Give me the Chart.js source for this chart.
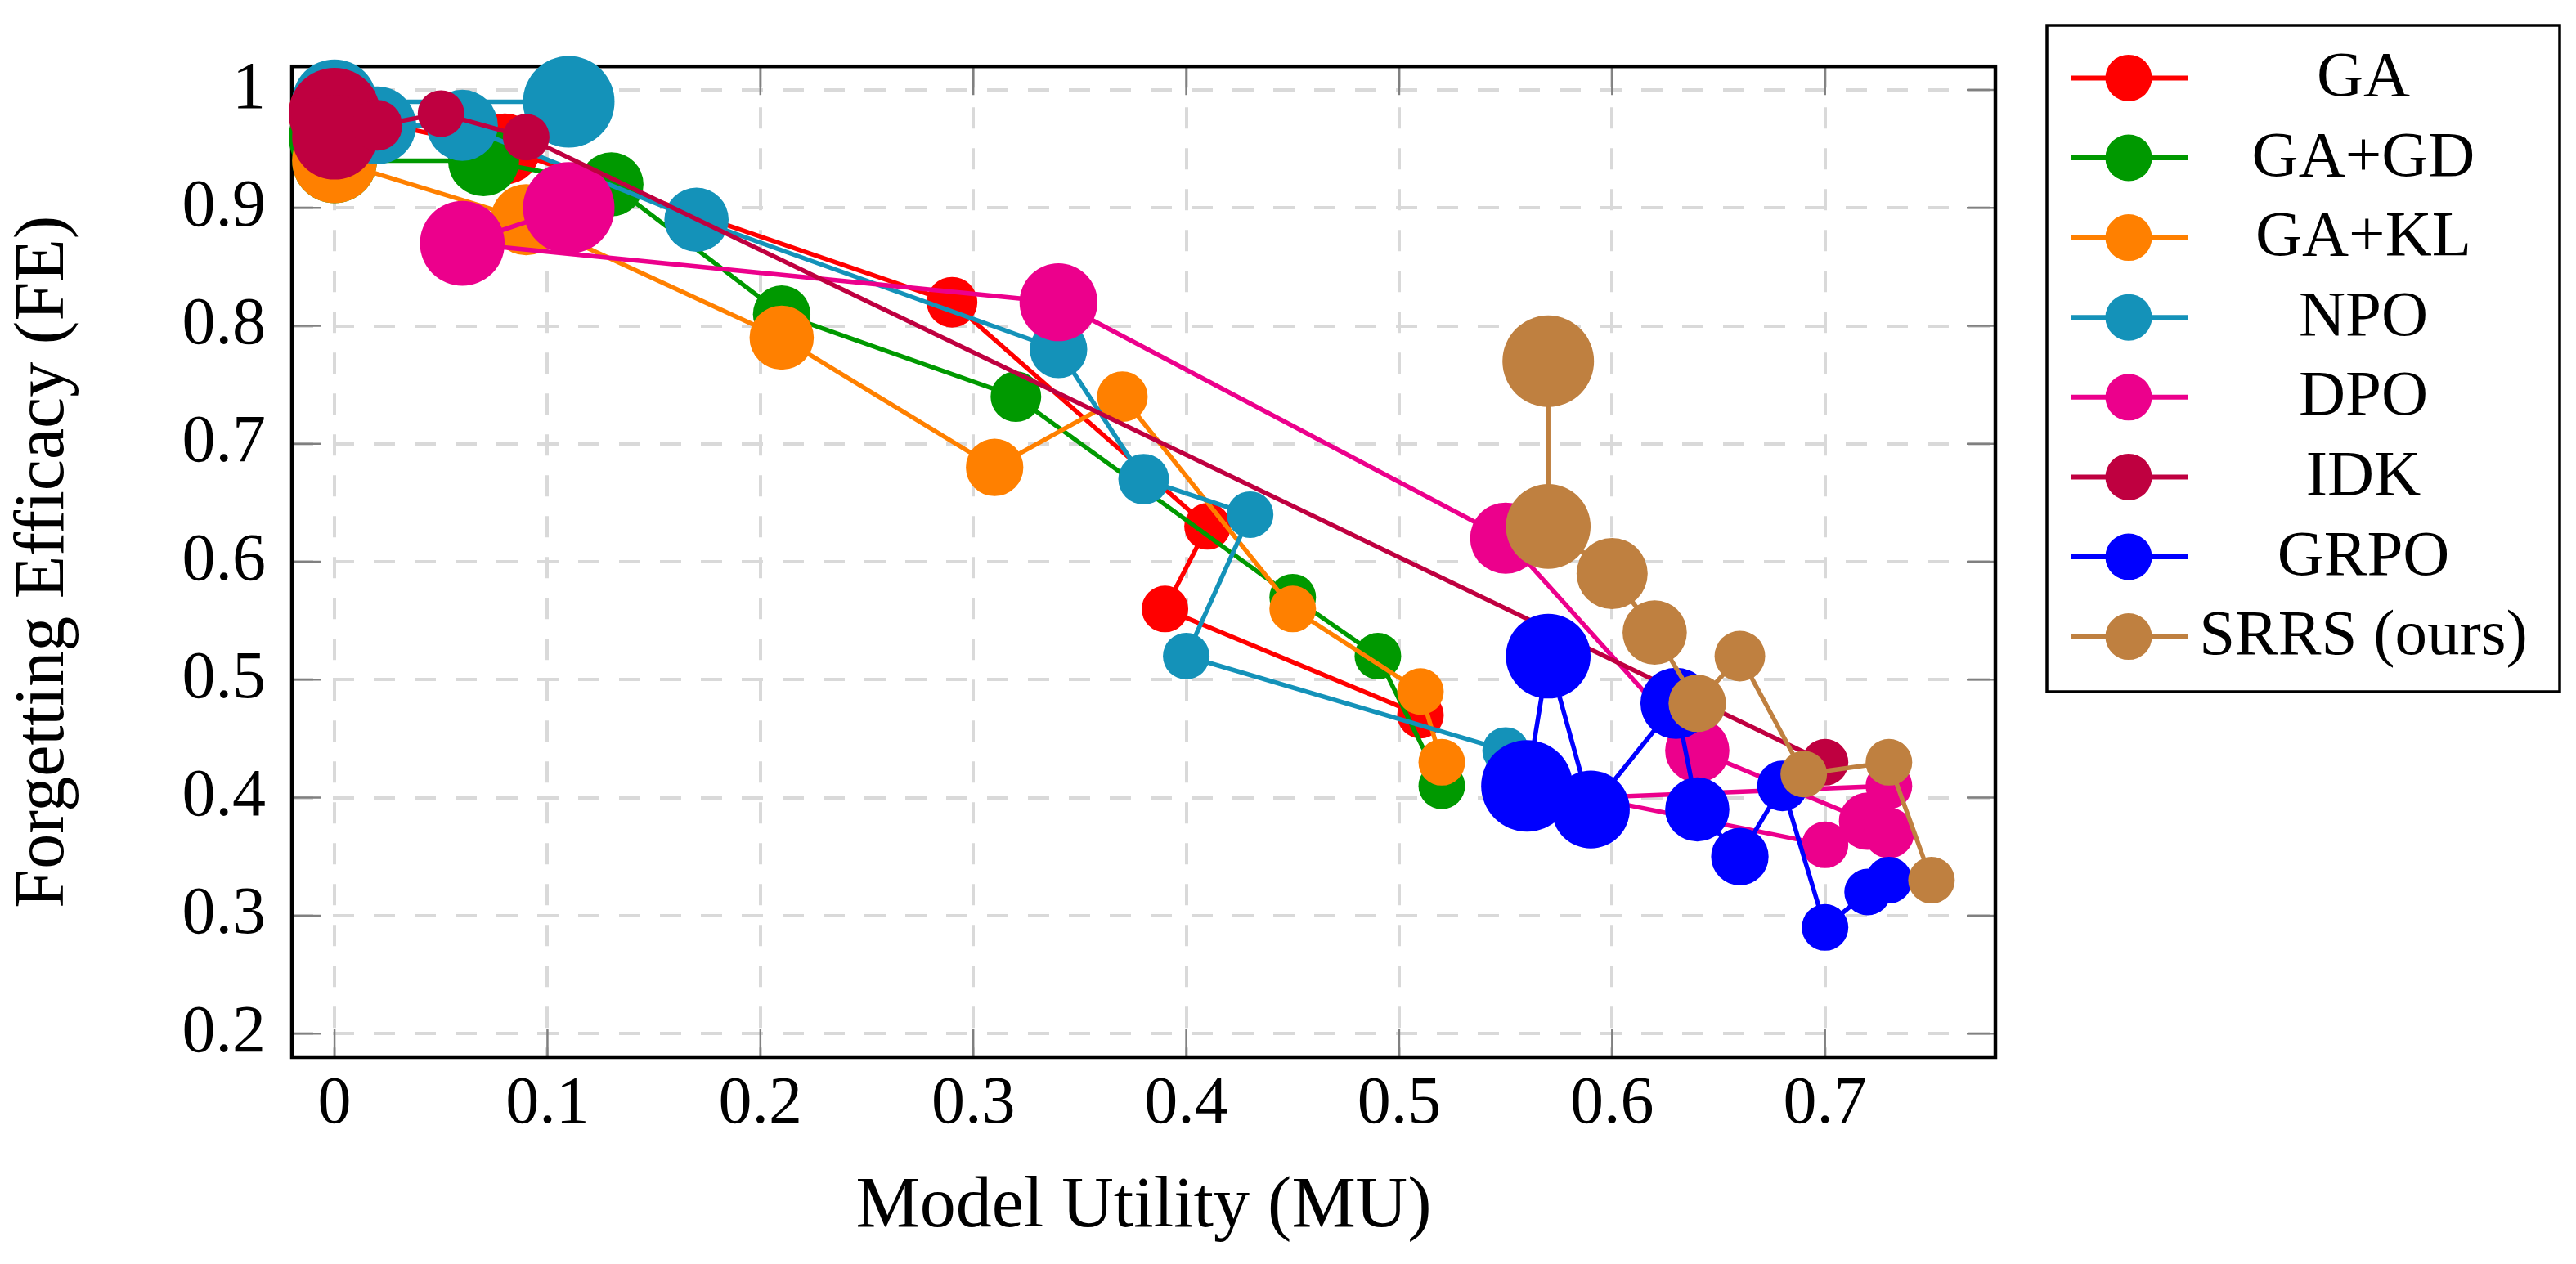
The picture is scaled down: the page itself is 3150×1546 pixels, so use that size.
<!DOCTYPE html>
<html>
<head>
<meta charset="utf-8">
<script src="https://cdn.jsdelivr.net/npm/chart.js@4.4.1/dist/chart.umd.min.js"></script>
<style>
  html, body { margin: 0; padding: 0; background: #ffffff; }
  #wrap { width: 3150px; height: 1546px; position: relative; }
</style>
</head>
<body>
<div id="wrap"><canvas id="c"></canvas></div>
<script>
// ---------------- data ----------------
const seriesNames = ['GA', 'GA+GD', 'GA+KL', 'NPO', 'DPO', 'IDK', 'GRPO', 'SRRS (ours)'];

const gaX = [0, 0.08, 0.29, 0.41, 0.39, 0.51];
const gaY = [0.98, 0.95, 0.82, 0.63, 0.56, 0.47];
const gaLevel = [7, 4, 1, 0, 0, 0];

const gagdX = [0, 0, 0.07, 0.13, 0.21, 0.32, 0.45, 0.49, 0.52];
const gagdY = [0.96, 0.94, 0.94, 0.92, 0.81, 0.74, 0.57, 0.52, 0.41];
const gagdLevel = [7, 6, 4, 3, 2, 1, 0, 0, 0];

const gaklX = [0, 0.09, 0.21, 0.31, 0.37, 0.45, 0.51, 0.52];
const gaklY = [0.94, 0.89, 0.79, 0.68, 0.74, 0.56, 0.49, 0.43];
const gaklLevel = [6, 4, 3, 2, 1, 0, 0, 0];

const npoX = [0.11, 0, 0.02, 0.06, 0.17, 0.34, 0.38, 0.43, 0.40, 0.55];
const npoY = [0.99, 0.99, 0.97, 0.97, 0.89, 0.78, 0.67, 0.64, 0.52, 0.44];
const npoLevel = [7, 6, 5, 4, 3, 2, 1, 0, 0, 0];

const dpoX = [0.11, 0.06, 0.34, 0.55, 0.64, 0.72, 0.73, 0.73, 0.59, 0.70];
const dpoY = [0.90, 0.87, 0.82, 0.62, 0.44, 0.38, 0.37, 0.41, 0.40, 0.36];
const dpoLevel = [7, 6, 5, 4, 3, 2, 1, 0, 0, 0];

const idkX = [0, 0, 0.02, 0.05, 0.09, 0.70];
const idkY = [0.98, 0.96, 0.97, 0.98, 0.96, 0.43];
const idkLevel = [7, 6, 1, 0, 0, 0];

const grpoX = [0.56, 0.57, 0.59, 0.63, 0.64, 0.66, 0.68, 0.70, 0.72, 0.73];
const grpoY = [0.41, 0.52, 0.39, 0.48, 0.39, 0.35, 0.41, 0.29, 0.32, 0.33];
const grpoLevel = [7, 6, 5, 4, 3, 2, 1, 0, 0, 0];

const srrsX = [0.57, 0.57, 0.60, 0.62, 0.64, 0.66, 0.69, 0.73, 0.75];
const srrsY = [0.77, 0.63, 0.59, 0.54, 0.48, 0.52, 0.42, 0.43, 0.33];
const srrsLevel = [7, 6, 4, 3, 2, 1, 0, 0, 0];

const xTickValues = [0, 0.1, 0.2, 0.3, 0.4, 0.5, 0.6, 0.7];
const xTickLabels = ['0', '0.1', '0.2', '0.3', '0.4', '0.5', '0.6', '0.7'];
const yTickValues = [0.2, 0.3, 0.4, 0.5, 0.6, 0.7, 0.8, 0.9, 1];
const yTickLabels = ['0.2', '0.3', '0.4', '0.5', '0.6', '0.7', '0.8', '0.9', '1'];

const xTitle = 'Model Utility (MU)';
const yTitle = 'Forgetting Efficacy (FE)';

// ---------------- styling ----------------
const colors = ['#ff0000', '#009900', '#ff8000', '#1492b9', '#ec008c', '#bf0040', '#0000ff', '#bf8040'];
const FONT = "'Liberation Serif', 'Times New Roman', serif";

function radiusFor(level) {
  return level === 0 ? 28.5 : 26.8 + 4.17 * level;
}

const seriesX = [gaX, gagdX, gaklX, npoX, dpoX, idkX, grpoX, srrsX];
const seriesY = [gaY, gagdY, gaklY, npoY, dpoY, idkY, grpoY, srrsY];
const seriesLevel = [gaLevel, gagdLevel, gaklLevel, npoLevel, dpoLevel, idkLevel, grpoLevel, srrsLevel];

const datasets = seriesNames.map((name, i) => ({
  label: name,
  data: seriesX[i].map((x, j) => ({ x: x, y: seriesY[i][j] })),
  showLine: true,
  borderColor: colors[i],
  backgroundColor: colors[i],
  borderWidth: 5.5,
  tension: 0,
  pointStyle: 'circle',
  pointRadius: (ctx) => radiusFor(seriesLevel[i][ctx.dataIndex]),
  pointHoverRadius: (ctx) => radiusFor(seriesLevel[i][ctx.dataIndex]),
  pointBorderWidth: 0,
  pointBackgroundColor: colors[i],
  clip: false,
  order: seriesNames.length - i
}));

// frame + inward tick marks (below data)
const framePlugin = {
  id: 'frame',
  beforeDatasetsDraw(chart) {
    const { ctx, chartArea: a, scales } = chart;
    ctx.save();
    ctx.strokeStyle = '#808080';
    ctx.lineWidth = 2.5;
    const tl = 35;
    ctx.beginPath();
    xTickValues.forEach(v => {
      const px = scales.x.getPixelForValue(v);
      ctx.moveTo(px, a.bottom); ctx.lineTo(px, a.bottom - tl);
      ctx.moveTo(px, a.top); ctx.lineTo(px, a.top + tl);
    });
    yTickValues.forEach(v => {
      const py = scales.y.getPixelForValue(v);
      ctx.moveTo(a.left, py); ctx.lineTo(a.left + tl, py);
      ctx.moveTo(a.right, py); ctx.lineTo(a.right - tl, py);
    });
    ctx.stroke();
    ctx.strokeStyle = '#000000';
    ctx.lineWidth = 4.5;
    ctx.strokeRect(a.left, a.top, a.right - a.left, a.bottom - a.top);
    ctx.restore();
  }
};

// legend box drawn to the right of the plot
const legendPlugin = {
  id: 'boxLegend',
  afterDraw(chart) {
    const { ctx, chartArea: a } = chart;
    const left = a.right + 63, top = 31, right = 3130, bottom = 846;
    ctx.save();
    ctx.fillStyle = '#ffffff';
    ctx.fillRect(left, top, right - left, bottom - top);
    ctx.strokeStyle = '#000000';
    ctx.lineWidth = 3.5;
    ctx.strokeRect(left, top, right - left, bottom - top);
    const row0 = 95.4, step = 97.6;
    chart.data.datasets.forEach((ds, i) => {
      const y = row0 + step * i;
      ctx.strokeStyle = ds.borderColor;
      ctx.lineWidth = 6;
      ctx.beginPath();
      ctx.moveTo(left + 29, y);
      ctx.lineTo(left + 172, y);
      ctx.stroke();
      ctx.fillStyle = ds.borderColor;
      ctx.beginPath();
      ctx.arc(left + 100, y, 28.5, 0, Math.PI * 2);
      ctx.fill();
      ctx.fillStyle = '#000000';
      ctx.font = '79px ' + FONT;
      ctx.textAlign = 'center';
      ctx.textBaseline = 'alphabetic';
      ctx.fillText(ds.label, left + 387, y + 21.5);
    });
    ctx.restore();
  }
};

Chart.defaults.font.family = FONT;
Chart.defaults.color = '#000000';

new Chart(document.getElementById('c'), {
  type: 'scatter',
  data: { datasets: datasets },
  options: {
    responsive: true,
    maintainAspectRatio: false,
    devicePixelRatio: 1,
    animation: false,
    events: [],
    layout: { padding: { left: 0, right: 710, top: 28, bottom: 0 }, autoPadding: false },
    plugins: { legend: { display: false }, tooltip: { enabled: false } },
    scales: {
      x: {
        type: 'linear',
        min: -0.02,
        max: 0.78,
        afterBuildTicks: (scale) => { scale.ticks = xTickValues.map(v => ({ value: v })); },
        afterFit: (scale) => { scale.height = 253; },
        ticks: {
          font: { size: 82 },
          color: '#000000',
          padding: 9,
          maxRotation: 0,
          autoSkip: false,
          callback: (value, index) => xTickLabels[index]
        },
        grid: { color: '#d9d9d9', lineWidth: 4, drawTicks: false },
        border: { display: false, dash: [26, 24] },
        title: {
          display: true,
          text: xTitle,
          font: { size: 88, lineHeight: 1.2 },
          color: '#000000',
          padding: { top: 0, bottom: 16 }
        }
      },
      y: {
        type: 'linear',
        min: 0.18,
        max: 1.02,
        afterBuildTicks: (scale) => { scale.ticks = yTickValues.map(v => ({ value: v })); },
        afterFit: (scale) => { scale.width = 357; },
        ticks: {
          font: { size: 82 },
          color: '#000000',
          padding: 32,
          autoSkip: false,
          callback: (value, index) => yTickLabels[index]
        },
        grid: { color: '#d9d9d9', lineWidth: 4, drawTicks: false },
        border: { display: false, dash: [26, 24] },
        title: {
          display: true,
          text: yTitle,
          font: { size: 86, lineHeight: 1.2 },
          color: '#000000',
          padding: { top: 3, bottom: 0 }
        }
      }
    }
  },
  plugins: [framePlugin, legendPlugin]
});
</script>
</body>
</html>
